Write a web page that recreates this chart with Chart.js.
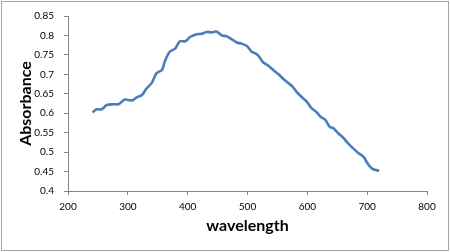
<!DOCTYPE html>
<html><head><meta charset="utf-8">
<script src="https://cdn.jsdelivr.net/npm/chart.js@4"></script>
<style>
html,body{margin:0;padding:0;background:#fff;}
#wrap{position:relative;width:450px;height:252px;}
#frame{position:absolute;left:1px;top:1px;width:446px;height:248px;border:1px solid #a6a6a6;pointer-events:none;}
</style></head><body>
<div id="wrap"><canvas id="c" width="450" height="252"></canvas><div id="frame"></div></div>
<script>
const wavelength = [241,248,256,265,276,284,288,295,304,309,315,323,331,340,348,357,362,370,379,387,396,404,415,423,432,440,448,457,465,474,482,490,499,507,513,518,526,535,543,552,560,568,575,582,591,599,607,616,622,630,638,643,652,660,669,677,685,694,699,704,710,720];
const absorbance = [0.602,0.610,0.610,0.621,0.623,0.623,0.627,0.635,0.633,0.634,0.641,0.646,0.663,0.678,0.703,0.711,0.734,0.758,0.766,0.785,0.785,0.796,0.803,0.804,0.809,0.808,0.810,0.800,0.798,0.790,0.782,0.779,0.773,0.758,0.754,0.748,0.731,0.722,0.711,0.700,0.688,0.678,0.669,0.655,0.641,0.630,0.613,0.602,0.591,0.583,0.564,0.562,0.548,0.537,0.521,0.509,0.498,0.488,0.475,0.464,0.456,0.452];
const xTicks = [200,300,400,500,600,700,800];
const yTicks = [0.4,0.45,0.5,0.55,0.6,0.65,0.7,0.75,0.8,0.85];
const points = wavelength.map((w,i)=>({x:w,y:absorbance[i]}));
const axisColor = '#868686';
const tickFont = {family:'Lato', size:10};
new Chart(document.getElementById('c'), {
  type:'scatter',
  data:{datasets:[{data:points, showLine:true, borderColor:'#4a7ebb', borderWidth:2.6, pointRadius:0, tension:0.3, fill:false}]},
  options:{
    responsive:false, animation:false, devicePixelRatio:1,
    layout:{padding:{top:14,right:23,left:0,bottom:0}},
    plugins:{legend:{display:false}, tooltip:{enabled:false}},
    scales:{
      x:{type:'linear', min:200, max:800,
        afterBuildTicks:s=>{s.ticks=xTicks.map(v=>({value:v}));},
        afterFit:s=>{s.height=61;},
        grid:{drawOnChartArea:false, drawTicks:true, tickLength:4, color:axisColor},
        border:{display:true,color:axisColor},
        ticks:{color:'#000', font:tickFont, padding:6, maxRotation:0},
        title:{display:true, text:'wavelength', color:'#000', font:{family:'Lato', size:16, weight:'bold'}, padding:{top:4,bottom:17}}
      },
      y:{type:'linear', min:0.4, max:0.85,
        afterBuildTicks:s=>{s.ticks=yTicks.map(v=>({value:v}));},
        afterFit:s=>{s.width=68;},
        grid:{drawOnChartArea:false, drawTicks:true, tickLength:4, color:axisColor},
        border:{display:true,color:axisColor},
        ticks:{color:'#000', font:tickFont, padding:10, callback:v=>String(Number(v.toFixed(2)))},
        title:{display:true, text:'Absorbance', color:'#000', font:{family:'Lato', size:16, weight:'bold'}, padding:{top:16,bottom:0}}
      }
    }
  }
});
</script></body></html>
